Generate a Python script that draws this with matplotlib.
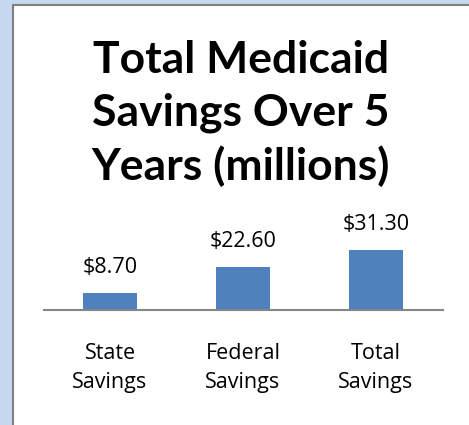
import matplotlib
matplotlib.use("Agg")
import matplotlib.pyplot as plt
from matplotlib.patches import Rectangle

# data
categories = ["State\nSavings", "Federal\nSavings", "Total\nSavings"]
values = [8.70, 22.60, 31.30]
value_labels = ["$8.70", "$22.60", "$31.30"]

TITLE = "Total Medicaid\nSavings Over 5\nYears (millions)"
BAR = "#4F81BD"
BG = "#C6D9F1"
FONT = ["Lato", "DejaVu Sans"]
LABEL_FONT = ["Open Sans", "DejaVu Sans"]

W, H = 469, 425
fig = plt.figure(figsize=(W / 100, H / 100), dpi=100, facecolor=BG)

# white chart panel with grey frame
fig.patches.append(Rectangle((13 / W, -0.05), 1.0, (H - 4.5) / H + 0.05,
                             transform=fig.transFigure, facecolor="white",
                             edgecolor="#7F7F7F", lw=1.5, zorder=-10))

fig.text(241 / W, 1 - 40 / H, TITLE, ha="center", va="top",
         fontsize=32, fontweight="bold", family=FONT, color="black",
         linespacing=1.37)

ax = fig.add_axes([43.5 / W, 115 / H, 399 / W, 80 / H])
ax.set_zorder(5)
ax.set_facecolor("none")
x = range(len(values))
ax.bar(x, values, width=0.41, color=BAR, zorder=2)
ax.set_xlim(-0.5, len(values) - 0.5)
ax.set_ylim(0, 80 / (60 / 31.3))

for xi, v, lab in zip(x, values, value_labels):
    ax.annotate(lab, (xi, v), xytext=(0, 14.5), textcoords="offset points",
                ha="center", va="baseline", fontsize=15.5, family=LABEL_FONT,
                color="black")

ax.set_xticks(list(x))
ax.set_xticklabels(categories, fontsize=15.5, family=LABEL_FONT, color="black",
                   linespacing=1.5)
ax.tick_params(axis="x", length=0, pad=23.5)
ax.set_yticks([])
for s in ["top", "right", "left"]:
    ax.spines[s].set_visible(False)
ax.spines["bottom"].set_color("#868686")
ax.spines["bottom"].set_linewidth(1.5)

fig.savefig("out.png", dpi=100, facecolor=BG)
